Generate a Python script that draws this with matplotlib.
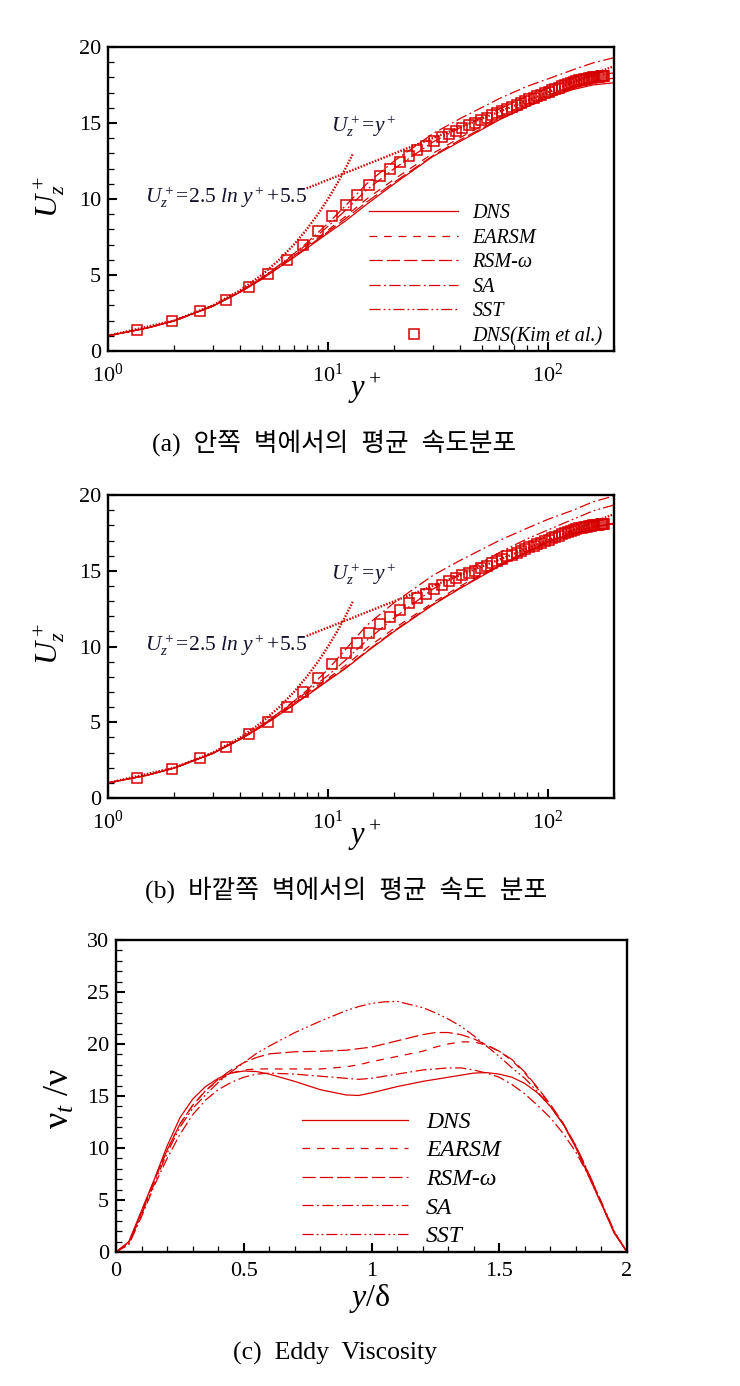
import numpy as np
import matplotlib
matplotlib.use("Agg")
import matplotlib.pyplot as plt
from matplotlib.ticker import MultipleLocator, NullFormatter, LogLocator

plt.rcParams.update({
    "font.family": ["Liberation Serif", "Noto Sans CJK KR"],
    "mathtext.fontset": "custom",
    "mathtext.rm": "Liberation Serif",
    "mathtext.it": "Liberation Serif:italic",
    "mathtext.bf": "Liberation Serif:bold",
    "lines.scale_dashes": False,
})

# ---------------- data: mean velocity profiles ----------------
yplus = [1, 1.5, 2, 3, 4, 5, 6, 7, 8, 10, 12, 15, 20, 30, 40, 60, 80, 100, 130, 160, 200]

# (a) inner wall
dns_a = [1.0, 1.5, 1.98, 2.95, 3.88, 4.72, 5.5, 6.15, 6.75, 7.75, 8.55, 9.65, 11.0, 12.8, 13.8, 15.2, 16.05, 16.65, 17.2, 17.5, 17.65]
earsm_a = [1.0, 1.5, 1.98, 2.95, 3.9, 4.75, 5.55, 6.25, 6.9, 7.95, 8.85, 10.0, 11.3, 13.0, 14.05, 15.4, 16.25, 16.85, 17.4, 17.75, 17.95]
rsm_a = [1.0, 1.5, 1.98, 2.95, 3.88, 4.73, 5.52, 6.2, 6.8, 7.85, 8.7, 9.8, 11.1, 12.85, 13.9, 15.25, 16.1, 16.7, 17.3, 17.6, 17.8]
sa_a = [1.0, 1.5, 1.99, 2.97, 3.93, 4.82, 5.65, 6.4, 7.1, 8.4, 9.55, 11.0, 12.5, 14.3, 15.3, 16.6, 17.4, 17.9, 18.5, 18.95, 19.3]
sst_a = [1.0, 1.5, 1.99, 2.96, 3.92, 4.8, 5.6, 6.35, 7.0, 8.2, 9.25, 10.6, 12.0, 13.75, 14.7, 15.9, 16.75, 17.3, 17.8, 18.1, 18.3]

# (b) outer wall
dns_b = [1.0, 1.5, 1.98, 2.95, 3.88, 4.72, 5.5, 6.15, 6.75, 7.75, 8.55, 9.65, 11.0, 12.75, 13.85, 15.3, 16.2, 16.9, 17.5, 17.9, 18.1]
earsm_b = [1.0, 1.5, 1.98, 2.95, 3.9, 4.75, 5.55, 6.25, 6.9, 7.9, 8.75, 9.9, 11.2, 12.9, 14.0, 15.4, 16.3, 16.95, 17.55, 17.95, 18.15]
rsm_b = [1.0, 1.5, 1.98, 2.95, 3.88, 4.73, 5.52, 6.2, 6.8, 7.8, 8.6, 9.7, 11.05, 12.8, 13.9, 15.35, 16.25, 16.9, 17.5, 17.9, 18.1]
sa_b = [1.0, 1.5, 1.99, 2.97, 3.93, 4.82, 5.65, 6.4, 7.1, 8.5, 9.8, 11.4, 12.9, 14.7, 15.7, 17.0, 17.8, 18.4, 19.0, 19.55, 19.95]
sst_b = [1.0, 1.5, 1.99, 2.96, 3.92, 4.8, 5.6, 6.35, 7.0, 8.1, 9.1, 10.4, 11.9, 13.8, 14.8, 16.2, 17.1, 17.7, 18.4, 18.95, 19.35]

# DNS (Kim et al.) reference points
kim_y = [1.35, 1.95, 2.63, 3.44, 4.36, 5.33, 6.49, 7.67, 9.03, 10.46, 12.04, 13.6, 15.4, 17.2, 19.1,
         21.3, 23.4, 25.4, 27.8, 30.3, 32.9, 35.4, 38.2, 40.8, 43.6, 46.6, 49.6, 52.6, 55.7, 58.8,
         62.0, 65.3, 68.6, 72.0, 75.4, 78.9, 82.4, 86.0, 89.6, 93.2, 96.9, 100.6, 104.3, 108.0, 111.8,
         115.6, 119.4, 123.2, 127.0, 130.9, 134.7, 138.5, 142.3, 146.1, 149.8, 153.5, 157.1, 160.6,
         164.0, 167.3, 170.4, 173.3, 175.9, 178.2, 180.0]
kim_u = [1.35, 1.95, 2.65, 3.35, 4.2, 5.05, 6.0, 7.0, 7.9, 8.85, 9.6, 10.25, 10.9, 11.5, 11.95,
         12.4, 12.85, 13.2, 13.5, 13.8, 14.05, 14.3, 14.5, 14.7, 14.85, 15.0, 15.2, 15.35, 15.5, 15.65,
         15.8, 15.95, 16.05, 16.2, 16.3, 16.45, 16.55, 16.65, 16.75, 16.85, 16.95, 17.05, 17.15, 17.25, 17.3,
         17.4, 17.5, 17.55, 17.6, 17.7, 17.75, 17.8, 17.85, 17.9, 17.92, 17.95, 17.98, 18.0,
         18.02, 18.04, 18.05, 18.06, 18.07, 18.08, 18.08]

# wall laws
visc_y = [1, 2, 3, 4, 5, 6, 7, 8, 9, 10, 11, 12, 13]
visc_u = [1, 2, 3, 4, 5, 6, 7, 8, 9, 10, 11, 12, 13]
log_y = [8, 200]
log_u = [10.7, 18.75]

# ---------------- data: eddy viscosity ----------------
yd = [0, 0.05, 0.1, 0.15, 0.2, 0.25, 0.3, 0.35, 0.4, 0.45, 0.5, 0.55, 0.6, 0.7, 0.8, 0.9, 0.95,
      1.0, 1.05, 1.1, 1.2, 1.25, 1.3, 1.35, 1.4, 1.45, 1.5, 1.55, 1.6, 1.65, 1.7, 1.75, 1.8, 1.85,
      1.9, 1.95, 2.0]
nu_dns = [0, 1.0, 4.0, 7.0, 10.2, 12.9, 14.7, 15.9, 16.7, 17.2, 17.4, 17.35, 17.1, 16.4, 15.6, 15.1, 15.05,
          15.3, 15.6, 15.9, 16.4, 16.6, 16.8, 17.0, 17.2, 17.25, 17.1, 16.8, 16.2, 15.3, 14.0, 12.3, 10.0, 7.3,
          4.6, 1.8, 0]
nu_earsm = [0, 0.9, 3.8, 6.9, 9.8, 12.3, 14.1, 15.5, 16.5, 17.2, 17.5, 17.6, 17.6, 17.6, 17.6, 17.8, 18.0,
            18.3, 18.55, 18.8, 19.3, 19.7, 20.0, 20.2, 20.2, 19.9, 19.3, 18.4, 17.2, 15.7, 14.1, 12.3, 10.1, 7.5,
            4.7, 1.9, 0]
nu_rsm = [0, 0.9, 3.8, 6.9, 9.8, 12.3, 14.1, 15.5, 16.6, 17.5, 18.2, 18.7, 19.05, 19.25, 19.3, 19.4, 19.55,
          19.7, 20.0, 20.3, 20.9, 21.1, 21.1, 20.9, 20.5, 19.9, 19.3, 18.5, 17.3, 15.8, 14.2, 12.4, 10.2, 7.5,
          4.7, 1.9, 0]
nu_sa = [0, 0.7, 3.4, 6.4, 9.0, 11.3, 13.2, 14.6, 15.6, 16.3, 16.8, 17.1, 17.2, 17.1, 16.9, 16.7, 16.6,
         16.7, 16.9, 17.1, 17.5, 17.6, 17.7, 17.7, 17.5, 17.2, 16.8, 16.1, 15.2, 14.1, 12.9, 11.4, 9.6, 7.3,
         4.6, 1.9, 0]
nu_sst = [0, 0.8, 3.6, 6.6, 9.5, 12.0, 13.8, 15.1, 16.3, 17.3, 18.2, 19.1, 19.8, 21.1, 22.2, 23.2, 23.6,
          23.9, 24.05, 24.1, 23.5, 23.0, 22.4, 21.7, 20.8, 19.8, 18.8, 17.7, 16.7, 15.4, 14.0, 12.3, 10.2, 7.6,
          4.8, 2.0, 0]

labels = ["DNS", "EARSM", "RSM-ω", "SA", "SST"]
kim_label = "DNS(Kim et al.)"

# ---------------- styles ----------------
RED = "#d80000"
DOT = "#cc0000"
styles = ["-", (0, (5.5, 5.0)), (0, (9.5, 3.0)), (0, (8, 2.5, 1.3, 2.5)), (0, (8, 2.2, 1.3, 2.2, 1.3, 2.2))]
LW = 0.9

fig = plt.figure(figsize=(7.4, 13.86), dpi=100)


def style_axes(ax, xpad=7):
    for sp in ax.spines.values():
        sp.set_linewidth(1.7)
    ax.tick_params(which="both", direction="in", top=False, right=False, labelsize=16)
    ax.tick_params(axis="y", pad=5)
    ax.tick_params(axis="x", pad=xpad)
    ax.tick_params(which="major", length=6.5, width=1.5)
    ax.tick_params(which="minor", length=4, width=0.9)


def velocity_panel(rect, series, legend):
    ax = fig.add_axes(rect)
    ax.set_xscale("log")
    for vals, lab, ls in zip(series, labels, styles):
        ax.plot(yplus, vals, color=RED, lw=LW, ls=ls, label=lab)
    ax.plot(kim_y, kim_u, ls="none", marker="s", ms=6.8, mfc="none", mec=RED,
            mew=1.1, label=kim_label)
    ax.plot(visc_y, visc_u, color=DOT, lw=1.7, ls=(0, (1.1, 1.1)))
    ax.plot(log_y, log_u, color=DOT, lw=1.7, ls=(0, (1.1, 1.1)))
    ax.set_xlim(1, 200)
    ax.set_ylim(0, 20)
    ax.yaxis.set_major_locator(MultipleLocator(5))
    ax.yaxis.set_minor_locator(MultipleLocator(1))
    ax.xaxis.set_major_locator(LogLocator(base=10))
    ax.xaxis.set_minor_locator(LogLocator(base=10, subs=np.arange(2, 10)))
    ax.xaxis.set_minor_formatter(NullFormatter())
    style_axes(ax, xpad=9)
    ax.set_ylabel(r"$U_z^+$", fontsize=23)
    ax.yaxis.set_label_coords(-0.082, 0.507)
    ax.set_xlabel(r"$y^+$", fontsize=22)
    ax.xaxis.set_label_coords(0.508, -0.068)
    ax.text(1.47, 10.1, r"$\mathit{U_z^+\!=\!2.5\ ln\ y^+\!+\!5.5}$", fontsize=15.5,
            va="center", ha="left", color="#10102a")
    ax.text(10.3, 14.75, r"$\mathit{U_z^+\!=\!y^+}$", fontsize=15.5,
            va="center", ha="left", color="#10102a")
    if legend:
        ax.legend(loc="upper left", bbox_to_anchor=(0.516, 0.483), frameon=False,
                  handlelength=4.43, handletextpad=0.7, labelspacing=0.27,
                  borderpad=0, borderaxespad=0, numpoints=1,
                  prop={"family": "Liberation Serif", "style": "italic", "size": 14.5})
    return ax


velocity_panel([0.146, 0.7468, 0.684, 0.2193], [dns_a, earsm_a, rsm_a, sa_a, sst_a], True)
velocity_panel([0.146, 0.4242, 0.684, 0.2186], [dns_b, earsm_b, rsm_b, sa_b, sst_b], False)

# ---------------- (c) eddy viscosity ----------------
axc = fig.add_axes([0.1568, 0.0967, 0.6905, 0.2251])
for vals, lab, ls in zip([nu_dns, nu_earsm, nu_rsm, nu_sa, nu_sst], labels, styles):
    axc.plot(yd, vals, color=RED, lw=LW, ls=ls, label=lab)
axc.set_xlim(0, 2)
axc.set_ylim(0, 30)
axc.xaxis.set_major_locator(MultipleLocator(0.5))
axc.xaxis.set_minor_locator(MultipleLocator(0.1))
axc.yaxis.set_major_locator(MultipleLocator(5))
axc.yaxis.set_minor_locator(MultipleLocator(1))
axc.xaxis.set_major_formatter(plt.FuncFormatter(lambda v, p: f"{v:g}"))
style_axes(axc, xpad=7)
axc.set_ylabel(r"$\mathrm{\nu}_t\ /\mathrm{\nu}$", fontsize=26)
axc.yaxis.set_label_coords(-0.076, 0.49)
axc.set_xlabel(r"$y/\mathrm{\delta}$", fontsize=23)
axc.xaxis.set_label_coords(0.497, -0.095)
axc.legend(loc="upper left", bbox_to_anchor=(0.363, 0.451), frameon=False,
           handlelength=4.53, handletextpad=0.75, labelspacing=0.3,
           borderpad=0, borderaxespad=0,
           prop={"family": "Liberation Serif", "style": "italic", "size": 17})

# ---------------- captions ----------------
cap_kw = dict(ha="center", va="center", fontsize=18.5,
              family=["Liberation Serif", "Noto Sans CJK KR"])
fig.text(334 / 740, 1 - 443 / 1386, "(a)  안쪽  벽에서의  평균  속도분포", **cap_kw)
fig.text(346 / 740, 1 - 890 / 1386, "(b)  바깥쪽  벽에서의  평균  속도  분포", **cap_kw)
fig.text(335 / 740, 1 - 1353 / 1386, "(c)  Eddy  Viscosity", **cap_kw)

fig.savefig("out.png", dpi=100, facecolor="white")
